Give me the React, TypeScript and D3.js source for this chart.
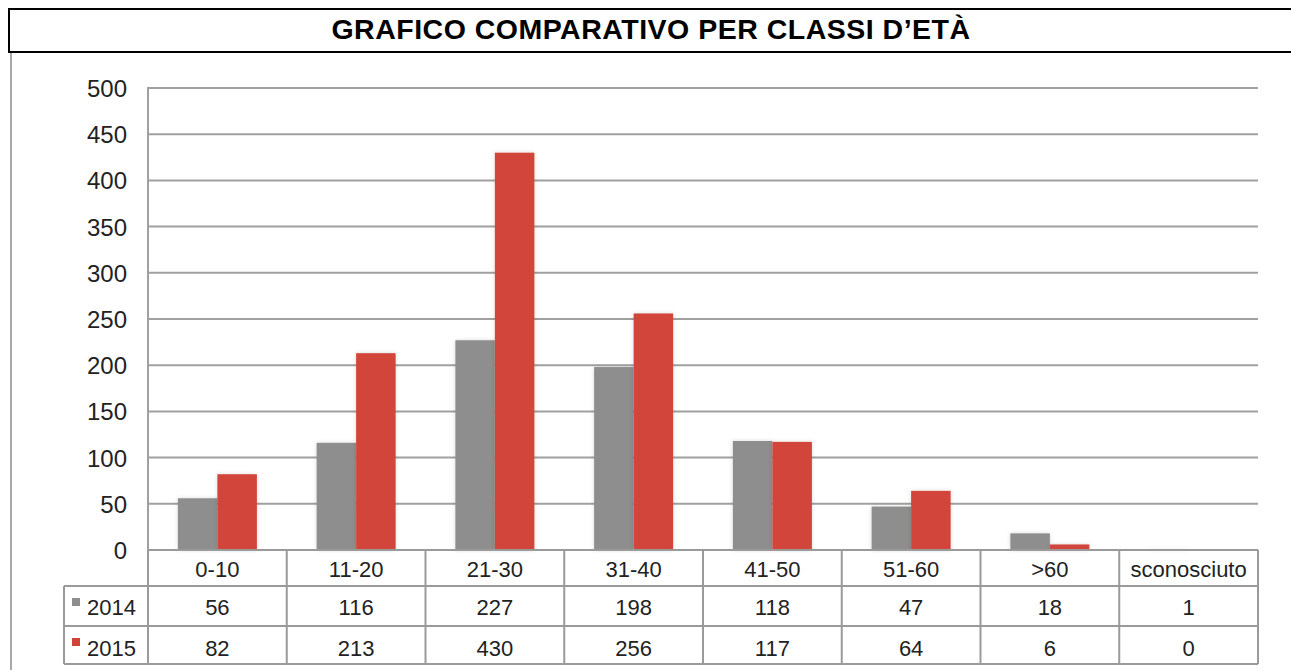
import React, { useRef, useEffect } from 'react'
import * as d3 from 'd3'

const title = 'GRAFICO COMPARATIVO PER CLASSI D\u2019ETÀ'
const categories = ['0-10', '11-20', '21-30', '31-40', '41-50', '51-60', '>60', 'sconosciuto']
const seriesNames = ['2014', '2015']
const values2014 = [56, 116, 227, 198, 118, 47, 18, 1]
const values2015 = [82, 213, 430, 256, 117, 64, 6, 0]
const yTicks = [0, 50, 100, 150, 200, 250, 300, 350, 400, 450, 500]
const colors = ['#8e8e8e', '#d2443a']

const App = () => {
    const chartRef = useRef<SVGSVGElement>(null)

    useEffect(() => {
        const W = 1291
        const H = 670
        const svg = d3.select(chartRef.current)
        svg.selectAll('*').remove()

        const font = 'Liberation Sans, Arial, Helvetica, sans-serif'
        const left = 148
        const right = 1258
        const top = 88
        const bottom = 550
        const rowH = [36, 40, 38]

        // outer frame
        svg.append('line')
            .attr('x1', 11).attr('x2', 11).attr('y1', 52).attr('y2', H)
            .attr('stroke', '#a8a8a8').attr('stroke-width', 2)

        // title box
        svg.append('rect')
            .attr('x', 9).attr('y', 9).attr('width', W + 10).attr('height', 43)
            .attr('fill', 'white').attr('stroke', '#000').attr('stroke-width', 2)
        svg.append('text')
            .attr('x', 651).attr('y', 39)
            .attr('text-anchor', 'middle')
            .attr('font-family', font).attr('font-weight', 'bold').attr('font-size', 28.5)
            .attr('letter-spacing', 0.5)
            .text(title)

        const x = d3.scaleBand()
            .domain(categories)
            .range([left, right])

        const xs = d3.scaleBand()
            .domain(seriesNames)
            .range([0, x.bandwidth()])
            .paddingInner(0)
            .paddingOuter(0.756)

        const y = d3.scaleLinear()
            .domain([0, 500])
            .range([bottom, top])

        // gridlines
        svg.append('g')
            .selectAll('line')
            .data(yTicks)
            .enter()
            .append('line')
            .attr('x1', left).attr('x2', right)
            .attr('y1', d => y(d)).attr('y2', d => y(d))
            .attr('stroke', '#a0a0a0').attr('stroke-width', 2)

        svg.append('line')
            .attr('x1', left).attr('x2', left).attr('y1', top - 1).attr('y2', bottom)
            .attr('stroke', '#a0a0a0').attr('stroke-width', 2)

        // y labels
        svg.append('g')
            .selectAll('text')
            .data(yTicks)
            .enter()
            .append('text')
            .attr('x', 127)
            .attr('y', d => y(d) + 9)
            .attr('text-anchor', 'end')
            .attr('font-family', font).attr('font-size', 24).attr('fill', '#222')
            .text(d => d)

        // bars
        const defs = svg.append('defs')
        const filter = defs.append('filter').attr('id', 'shadow')
            .attr('x', '-20%').attr('y', '-5%').attr('width', '140%').attr('height', '110%')
        filter.append('feDropShadow')
            .attr('dx', 0).attr('dy', 0).attr('stdDeviation', 2)
            .attr('flood-color', '#000').attr('flood-opacity', 0.15)

        const series = [values2014, values2015]
        series.forEach((vals, si) => {
            svg.append('g')
                .attr('filter', 'url(#shadow)')
                .selectAll('rect')
                .data(vals)
                .enter()
                .append('rect')
                .attr('x', (d, i) => x(categories[i])! + xs(seriesNames[si])!)
                .attr('y', d => y(d))
                .attr('width', xs.bandwidth())
                .attr('height', d => bottom - y(d))
                .attr('fill', colors[si])
        })

        // data table
        const tbl = svg.append('g')
        const gridColor = '#9a9a9a'
        const r0 = bottom
        const r1 = r0 + rowH[0]
        const r2 = r1 + rowH[1]
        const r3 = r2 + rowH[2]
        const legLeft = 64

        const hline = (x1: number, x2: number, yy: number) =>
            tbl.append('line').attr('x1', x1).attr('x2', x2).attr('y1', yy).attr('y2', yy)
                .attr('stroke', gridColor).attr('stroke-width', 2)
        const vline = (xx: number, y1: number, y2: number) =>
            tbl.append('line').attr('x1', xx).attr('x2', xx).attr('y1', y1).attr('y2', y2)
                .attr('stroke', gridColor).attr('stroke-width', 2)

        hline(left, right, r0)
        hline(legLeft, right, r1)
        hline(legLeft, right, r2)
        hline(legLeft, right, r3)
        vline(legLeft, r1, r3)
        categories.forEach(c => vline(x(c)!, r0, r3))
        vline(right, r0, r3)

        const cellText = (xx: number, yy: number, t: string, anchor = 'middle') =>
            tbl.append('text')
                .attr('x', xx).attr('y', yy)
                .attr('text-anchor', anchor)
                .attr('font-family', font).attr('font-size', 22).attr('fill', '#222')
                .text(t)

        categories.forEach((c, i) => {
            const cx = x(c)! + x.bandwidth() / 2
            cellText(cx, r0 + 27, c)
            cellText(cx, r1 + 29, String(values2014[i]))
            cellText(cx, r2 + 30, String(values2015[i]))
        })

        seriesNames.forEach((s, si) => {
            const ry = si === 0 ? r1 : r2
            tbl.append('rect')
                .attr('x', 72).attr('y', ry + 12).attr('width', 8).attr('height', 8)
                .attr('fill', colors[si])
            cellText(87, ry + (si === 0 ? 29 : 30), s, 'start')
        })
    }, [])

    return (
        <svg ref={chartRef} width={1291} height={670}
            style={{ position: 'absolute', left: 0, top: 0, background: 'white' }} />
    )
}

export default App
